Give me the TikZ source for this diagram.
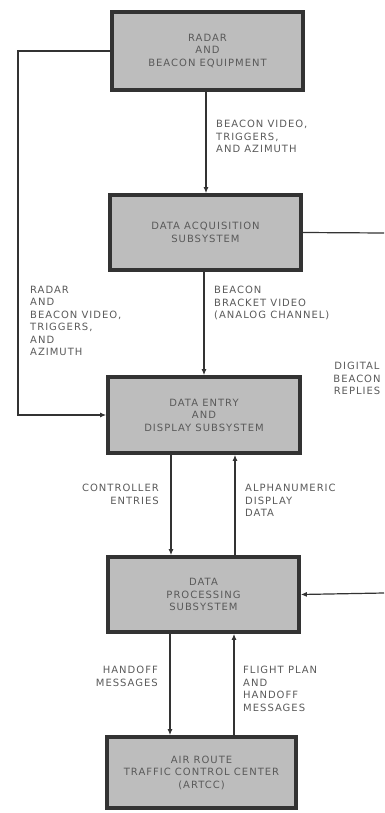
\documentclass[tikz,border=0pt]{standalone}
\usepackage{fontspec}
\setmainfont{Liberation Sans}
\newfontfamily\labelfont[LetterSpace=10]{DejaVu Sans}
\usetikzlibrary{positioning,arrows.meta}
\definecolor{ink}{HTML}{333333}
\definecolor{mutedink}{HTML}{5A5A5A}
\definecolor{boxfill}{HTML}{BDBDBD}

\begin{document}
\begin{tikzpicture}[x=1pt,y=-1pt,
    unit/.style={draw=ink,line width=3.6pt,fill=boxfill,align=center,
      font=\labelfont\fontsize{10}{12.5}\selectfont,text=mutedink,inner sep=2pt},
    flow/.style={draw=ink,line width=1.2pt,-{Latex[length=6pt,width=5pt]}},
    wire/.style={draw=ink,line width=1.2pt},
    tag/.style={font=\labelfont\fontsize{10}{12.5}\selectfont,text=mutedink,inner sep=0pt}]
  \useasboundingbox (0,0) rectangle (384,813);
  % subsystem boxes
  \node[unit,minimum width=191pt,minimum height=78pt] (radar) at (207.5,51) {RADAR\\AND\\BEACON EQUIPMENT};
  \node[unit,minimum width=191pt,minimum height=75pt] (acq) at (205.5,232.5) {DATA ACQUISITION\\SUBSYSTEM};
  \node[unit,minimum width=192pt,minimum height=76pt] (entry) at (204,415) {DATA ENTRY\\AND\\DISPLAY SUBSYSTEM};
  \node[unit,minimum width=191pt,minimum height=75pt] (proc) at (203.5,594.5) {DATA\\PROCESSING\\SUBSYSTEM};
  \node[unit,minimum width=189pt,minimum height=71pt] (artcc) at (201.5,772.5) {AIR ROUTE\\TRAFFIC CONTROL CENTER\\(ARTCC)};
  % free ends
  \coordinate (loop) at (18,415);
  \coordinate (acqout) at (384,233);
  \coordinate (procin) at (384,593);
  % connectors
  \draw[flow] (radar.south -| 206,0) -- (acq.north -| 206,0);
  \draw[flow] (radar.west) -| (loop) -- (entry.west);
  \draw[wire] (acq.east) -- (acqout);
  \draw[flow] (acq.south -| 204,0) -- (entry.north -| 204,0);
  \draw[flow] (entry.south -| 171,0) -- (proc.north -| 171,0);
  \draw[flow] (proc.north -| 235,0) -- (entry.south -| 235,0);
  \draw[flow] (procin) -- (proc.east);
  \draw[flow] (proc.south -| 170,0) -- (artcc.north -| 170,0);
  \draw[flow] (artcc.north -| 234,0) -- (proc.south -| 234,0);
  % signal labels
  \node[tag,align=left,anchor=north west] (beaconvid) at (216,120) {BEACON VIDEO,\\TRIGGERS,\\AND AZIMUTH};
  \node[tag,align=left,anchor=north west] (radarvid) at (30,286) {RADAR\\AND\\BEACON VIDEO,\\TRIGGERS,\\AND\\AZIMUTH};
  \node[tag,align=left,anchor=north west] (bracket) at (214,286) {BEACON\\BRACKET VIDEO\\(ANALOG CHANNEL)};
  \node[tag,align=center,anchor=north] (replies) at (357,362) {DIGITAL\\BEACON\\REPLIES};
  \node[tag,align=right,anchor=north east] (ctrl) at (159,484) {CONTROLLER\\ENTRIES};
  \node[tag,align=left,anchor=north west] (alpha) at (245,484) {ALPHANUMERIC\\DISPLAY\\DATA};
  \node[tag,align=right,anchor=north east] (handoff) at (158,666) {HANDOFF\\MESSAGES};
  \node[tag,align=left,anchor=north west] (flight) at (243,666) {FLIGHT PLAN\\AND\\HANDOFF\\MESSAGES};
\end{tikzpicture}
\end{document}
